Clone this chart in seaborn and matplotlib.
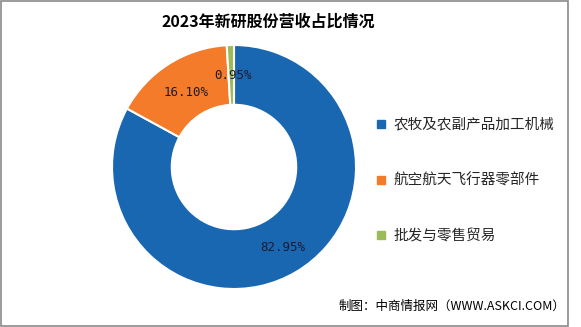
import matplotlib
matplotlib.use("Agg")
import matplotlib.pyplot as plt
import seaborn as sns
from matplotlib.lines import Line2D
from matplotlib.patches import Rectangle

# data
categories = ["农牧及农副产品加工机械", "航空航天飞行器零部件", "批发与零售贸易"]
shares = [82.95, 16.10, 0.95]
colors = ["#1a67b1", "#f47b2a", "#9bbb59"]

sns.set_theme(style="white")
plt.rcParams["font.family"] = ["Noto Sans CJK SC", "DejaVu Sans"]

fig = plt.figure(figsize=(5.81, 3.27), dpi=100)
fig.patch.set_facecolor("white")

ax = fig.add_axes([112 / 581, 38 / 327, 244 / 581, 244 / 327])
wedges, texts, autotexts = ax.pie(
    shares, colors=colors, startangle=90, counterclock=False,
    autopct=lambda p: f"{p:.2f}%", pctdistance=0.75,
    wedgeprops=dict(width=0.49, edgecolor="white", linewidth=1.5),
    textprops=dict(family="DejaVu Sans Mono", fontsize=9, color="#1b1b2b"))
ax.set_xlim(-1, 1)
ax.set_ylim(-1, 1)
for t, lbl, pos in zip(autotexts, shares, [(0.40, -0.66), (-0.39, 0.61), (-0.01, 0.75)]):
    t.set_text(f"{lbl:.2f}%")
    t.set_position(pos)

fig.text(268 / 581, 1 - 22 / 327, "2023年新研股份营收占比情况", ha="center", va="center",
         fontsize=11.5, fontweight="bold", color="black")

handles = [Line2D([], [], marker="s", linestyle="", markersize=6,
                  markerfacecolor=c, markeredgecolor=c) for c in colors]
fig.legend(handles, categories, loc="upper left", bbox_to_anchor=(370 / 581, 1 - 112 / 327),
           frameon=False, fontsize=10.5, handlelength=0.7, handletextpad=0.5,
           labelspacing=2.85, borderaxespad=0)

fig.text(565 / 581, 1 - 306 / 327, "制图：中商情报网（WWW.ASKCI.COM）", ha="right",
         va="center", fontsize=9, color="black")

# frame
fig.patches.append(Rectangle((1 / 581, 1 / 327), 567 / 581, 325 / 327,
                             transform=fig.transFigure, fill=False,
                             edgecolor="#8a8a8a", linewidth=1.2))

fig.savefig("out.png", dpi=100)
